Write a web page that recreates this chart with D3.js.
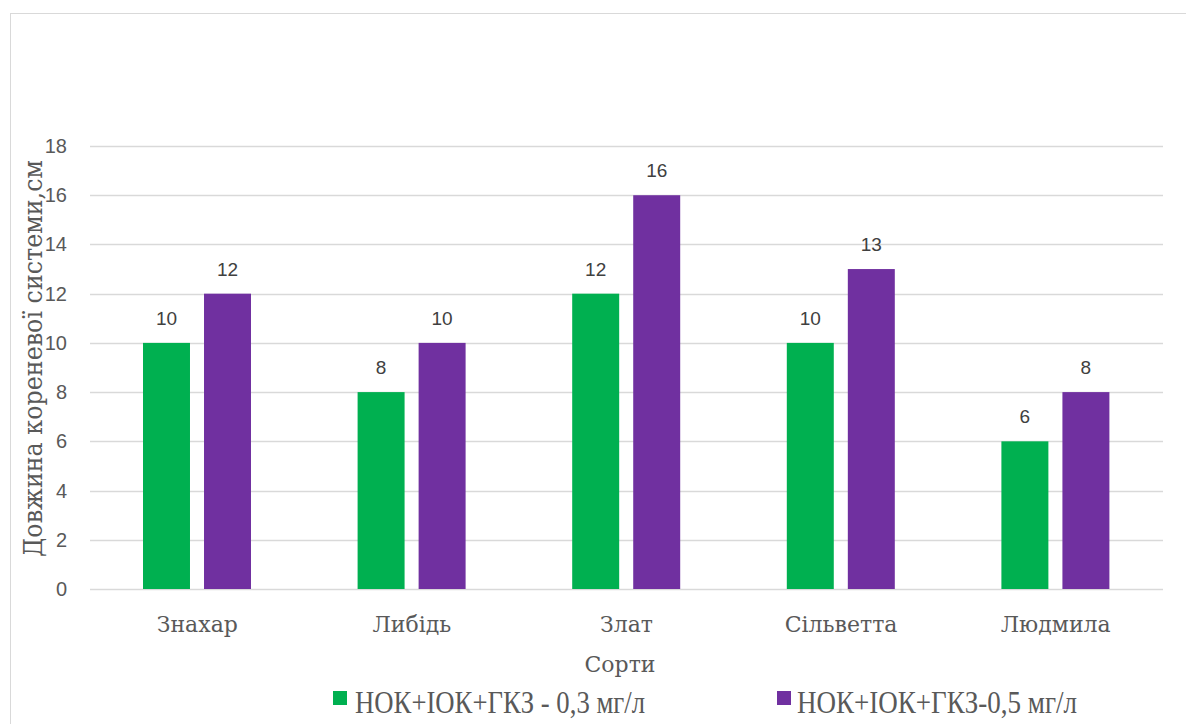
<!DOCTYPE html>
<html><head><meta charset="utf-8">
<script src="https://cdn.jsdelivr.net/npm/d3@7"></script>
<style>body{margin:0;background:#fff}svg{display:block}</style>
</head><body>
<svg id="c" width="1186" height="724"></svg>
<script>
const categories = ["Знахар", "Либідь", "Злат", "Сільветта", "Людмила"];
const seriesNames = ["НОК+ІОК+ГКЗ - 0,3 мг/л", "НОК+ІОК+ГКЗ-0,5 мг/л"];
const series03 = [10, 8, 12, 10, 6];
const series05 = [12, 10, 16, 13, 8];
const colors = ["#00b050", "#7030a0"];
const yTicks = [0, 2, 4, 6, 8, 10, 12, 14, 16, 18];
const yTitle = "Довжина кореневої системи,см";
const xTitle = "Сорти";

(function () {
const svg = d3.select("#c");
svg.append("rect").attr("x", 10.5).attr("y", 13.5).attr("width", 1190).attr("height", 740)
  .attr("fill", "#fff").attr("stroke", "#d9d9d9");

const pLeft = 90, pRight = 1163, pTop = 146, pBottom = 589;
const x0 = d3.scaleBand().domain(categories).range([pLeft, pRight]).padding(0);
const x1 = d3.scaleBand().domain([0, 1]).range([53, 161]).paddingInner(0.23);
const y = d3.scaleLinear().domain([0, 18]).range([pBottom, pTop]);

const sans = "'Liberation Sans', Arimo, sans-serif";
const serif = "'DejaVu Serif', 'Liberation Serif', serif";
const serif2 = "'Liberation Serif', serif";

svg.append("g").selectAll("line").data(yTicks).join("line")
  .attr("x1", pLeft).attr("x2", pRight)
  .attr("y1", d => Math.round(y(d)) + 0.5).attr("y2", d => Math.round(y(d)) + 0.5)
  .attr("stroke", "#d9d9d9").attr("stroke-width", 1.3);

svg.append("g").selectAll("text").data(yTicks).join("text")
  .attr("x", 67).attr("y", d => y(d) + 7)
  .attr("text-anchor", "end").attr("font-family", sans).attr("font-size", 20)
  .attr("fill", "#595959").text(d => d);

const data = [series03, series05];
data.forEach((vals, si) => {
  const g = svg.append("g");
  g.selectAll("rect").data(vals).join("rect")
    .attr("x", (d, i) => x0(categories[i]) + x1(si))
    .attr("width", x1.bandwidth())
    .attr("y", d => y(d)).attr("height", d => y(0) - y(d))
    .attr("fill", colors[si]);
  g.selectAll("text").data(vals).join("text")
    .attr("x", (d, i) => x0(categories[i]) + x1(si) + x1.bandwidth() / 2)
    .attr("y", d => y(d) - 18)
    .attr("text-anchor", "middle").attr("font-family", sans).attr("font-size", 19)
    .attr("fill", "#404040").text(d => d);
});

svg.append("g").selectAll("text").data(categories).join("text")
  .attr("x", d => x0(d) + x0.bandwidth() / 2).attr("y", 632)
  .attr("text-anchor", "middle").attr("font-family", serif).attr("font-size", 22)
  .attr("fill", "#595959").text(d => d);

svg.append("text").attr("x", 620).attr("y", 672)
  .attr("text-anchor", "middle").attr("font-family", serif).attr("font-size", 22)
  .attr("fill", "#595959").text(xTitle);

svg.append("text").attr("transform", "translate(42,358.5) rotate(-90)")
  .attr("text-anchor", "middle").attr("font-family", serif).attr("font-size", 26)
  .attr("textLength", 397).attr("lengthAdjust", "spacingAndGlyphs")
  .attr("fill", "#595959").text(yTitle);

const legSq = [333, 777];
const legTx = [355, 797];
const legW = [290, 280];
seriesNames.forEach((n, i) => {
  svg.append("rect").attr("x", legSq[i]).attr("y", 691).attr("width", 14).attr("height", 14)
    .attr("fill", colors[i]);
  svg.append("text").attr("x", legTx[i]).attr("y", 713)
    .attr("font-family", serif2).attr("font-size", 31)
    .attr("textLength", legW[i]).attr("lengthAdjust", "spacingAndGlyphs")
    .attr("fill", "#595959").text(n);
});
})();
</script>
</body></html>
